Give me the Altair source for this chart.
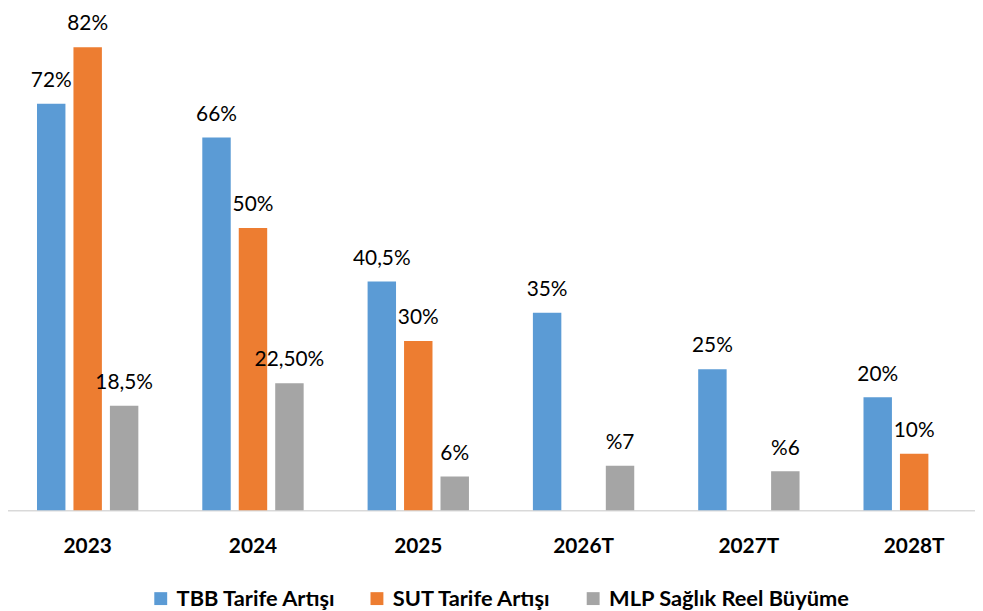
import altair as alt
import pandas as pd

years = ["2023", "2024", "2025", "2026T", "2027T", "2028T"]
series = ["TBB Tarife Artışı", "SUT Tarife Artışı", "MLP Sağlık Reel Büyüme"]
colors = ["#5B9BD5", "#ED7D31", "#A5A5A5"]

tbb_values = [72, 66, 40.5, 35, 25, 20]
sut_values = [82, 50, 30, None, None, 10]
mlp_values = [18.5, 22.5, 6, 7.9, 6.9, None]

tbb_labels = ["72%", "66%", "40,5%", "35%", "25%", "20%"]
sut_labels = ["82%", "50%", "30%", "", "", "10%"]
mlp_labels = ["18,5%", "22,50%", "6%", "%7", "%6", ""]

rows = []
for s, vals, labs in zip(series, [tbb_values, sut_values, mlp_values],
                         [tbb_labels, sut_labels, mlp_labels]):
    for y, v, l in zip(years, vals, labs):
        if v is not None:
            rows.append({"year": y, "series": s, "value": v, "label": l})
df = pd.DataFrame(rows)

x_enc = alt.X(
    "year:N", sort=years,
    scale=alt.Scale(range=[-3, 997], paddingInner=0, paddingOuter=0),
    axis=alt.Axis(title=None, labelAngle=0, labelFont="Lato", labelFontWeight="bold",
                  labelFontSize=21, labelColor="black", ticks=False, tickSize=0,
                  labelPadding=26, domainColor="#d9d9d9", domainWidth=1.5, grid=False),
)
xo_enc = alt.XOffset("series:N", sort=series,
                     scale=alt.Scale(domain=series, paddingInner=0.22, paddingOuter=0.877))
y_enc = alt.Y("value:Q", scale=alt.Scale(domain=[0, 88.5], nice=False, zero=True), axis=None)

base = alt.Chart(df)

bars = base.mark_bar().encode(
    x=x_enc, xOffset=xo_enc, y=y_enc,
    color=alt.Color(
        "series:N", sort=series,
        scale=alt.Scale(domain=series, range=colors),
        legend=alt.Legend(
            title=None, orient="none", direction="horizontal", legendX=143, legendY=582,
            symbolType="square", symbolSize=169, symbolStrokeWidth=0, labelFont="Lato",
            labelFontWeight="bold", labelFontSize=22, labelColor="black",
            columnPadding=30, labelOffset=5, padding=0, labelLimit=400,
        ),
    ),
)

labels = base.mark_text(font="Lato", fontSize=21, baseline="alphabetic", dy=-17,
                        color="black").encode(
    x=x_enc, xOffset=xo_enc, y=y_enc, text="label:N"
)

chart = (bars + labels).properties(
    width=975, height=504,
    autosize=alt.AutoSizeParams(type="none"),
    padding={"left": 0, "top": 0, "right": 0, "bottom": 99},
).configure_view(stroke=None)

chart.save("out.html", embed_options={"renderer": "svg", "actions": False})
